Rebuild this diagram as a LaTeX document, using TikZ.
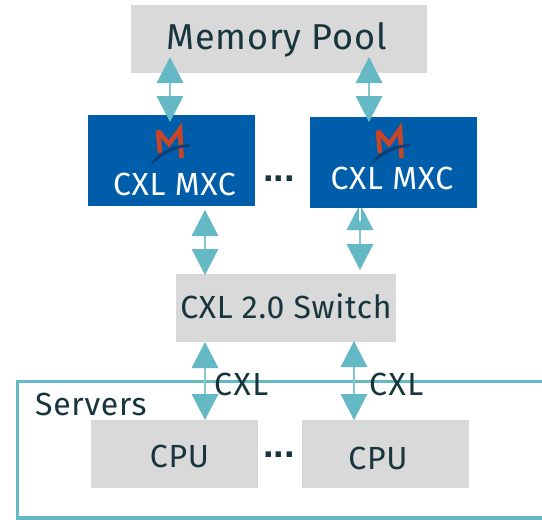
\documentclass[tikz,border=0pt]{standalone}
\usepackage{fontspec}
\setmainfont[LetterSpace=2.2]{Fira Sans}
\newfontfamily\dotsfont[LetterSpace=0]{Liberation Sans}
\usetikzlibrary{arrows.meta}
\definecolor{teal1}{HTML}{65B9C4}
\definecolor{ink}{HTML}{17353D}
\definecolor{boxgray}{HTML}{D9D9D9}
\definecolor{mxcblue}{HTML}{005DAA}
\definecolor{logored}{HTML}{C9452A}
\definecolor{logoblue}{HTML}{0D3F78}
\tikzset{
  x=1pt,y=-1pt,
  graybox/.style={fill=boxgray,draw=none,inner sep=0pt,text=ink,anchor=north west},
  bluebox/.style={fill=mxcblue,draw=none,inner sep=0pt,anchor=north west},
  lab/.style={text=ink,inner sep=0pt,anchor=base west},
  ctr/.style={inner sep=0pt,anchor=base},
  big/.style={font=\fontsize{32}{32}\selectfont},
  wide/.style={font=\fontsize{32}{32}\selectfont\addfontfeatures{LetterSpace=5}},
  dotlab/.style={text=ink,inner sep=0pt,anchor=base,font=\dotsfont\bfseries\fontsize{38}{38}\selectfont},
  link/.style={draw=teal1!80,line width=1.4pt,{Triangle[width=26.5pt,length=26pt,fill=teal1,color=teal1]}-{Triangle[width=26.5pt,length=26pt,fill=teal1,color=teal1]}},
}
\newcommand{\mxclogo}[2]{%
  \begin{scope}[shift={(#1,#2)}]
    \draw[logored,line width=4.6pt,line join=miter,miter limit=3] (4,28) -- (2,6) -- (13,19) -- (24,4) -- (25.5,33);
    \fill[logoblue] (-5,38) .. controls (4,26) and (16,20) .. (34,19) -- (33,22) .. controls (20,22) and (8,29) .. (-3,38.5) -- cycle;
    \node[text=logoblue,inner sep=0pt,font=\fontsize{5}{5}\selectfont] at (33,4) {tc};
  \end{scope}}
\begin{document}
\begin{tikzpicture}
\useasboundingbox (0,0) rectangle (542,520);
\draw[teal1,line width=3.5pt,line join=miter] (548,381.5) -- (17.5,381.5) -- (17.5,518) -- (548,518);
\coordinate (a1) at (170,57); \coordinate (a2) at (170,122);
\coordinate (b1) at (369,57); \coordinate (b2) at (369,122);
\coordinate (c1) at (205,210); \coordinate (c2) at (205,275);
\coordinate (d1) at (360,204); \coordinate (d2) at (360,270);
\coordinate (d3) at (360,221);
\coordinate (e1) at (205,342); \coordinate (e2) at (205,420);
\coordinate (f1) at (354,341); \coordinate (f2) at (354,420);
\draw[link] (d1) -- (d2);
\draw[white,line width=1.6pt] (d1) -- (d3);
\node[graybox,minimum width=296pt,minimum height=68pt] (mem) at (131,5) {};
\node[ctr,text=ink,font=\fontsize{36}{36}\selectfont] (memt) at (276.5,49) {Memory Pool};
\node[bluebox,minimum width=167pt,minimum height=91pt] (mxa) at (88,115) {};
\node[bluebox,minimum width=167pt,minimum height=91pt] (mxb) at (310,117) {};
\mxclogo{156}{125}
\mxclogo{376}{125}
\node[ctr,big,text=white] (mxat) at (174.5,195) {CXL MXC};
\node[ctr,big,text=white] (mxbt) at (392,189) {CXL MXC};
\node[graybox,minimum width=220pt,minimum height=68pt] (sw) at (176,274) {};
\node[ctr,big,text=ink] (swt) at (286,318) {CXL 2.0 Switch};
\node[graybox,minimum width=167pt,minimum height=68pt] (cpa) at (91,420) {};
\node[graybox,minimum width=167pt,minimum height=68pt] (cpb) at (302,420) {};
\node[ctr,big,text=ink] (cpat) at (179.5,467) {CPU};
\node[ctr,big,text=ink] (cpbt) at (378,469) {CPU};
\node[lab,big] (srv) at (35,415) {Servers};
\node[dotlab] (da) at (279,181) {...};
\node[dotlab] (db) at (279,457) {...};
\draw[link] (a1) -- (a2);
\draw[link] (b1) -- (b2);
\draw[link] (c1) -- (c2);
\draw[link] (e1) -- (e2);
\draw[link] (f1) -- (f2);
\node[lab,wide] (cx1) at (214,395) {CXL};
\node[lab,wide] (cx2) at (369,395) {CXL};
\end{tikzpicture}
\end{document}
